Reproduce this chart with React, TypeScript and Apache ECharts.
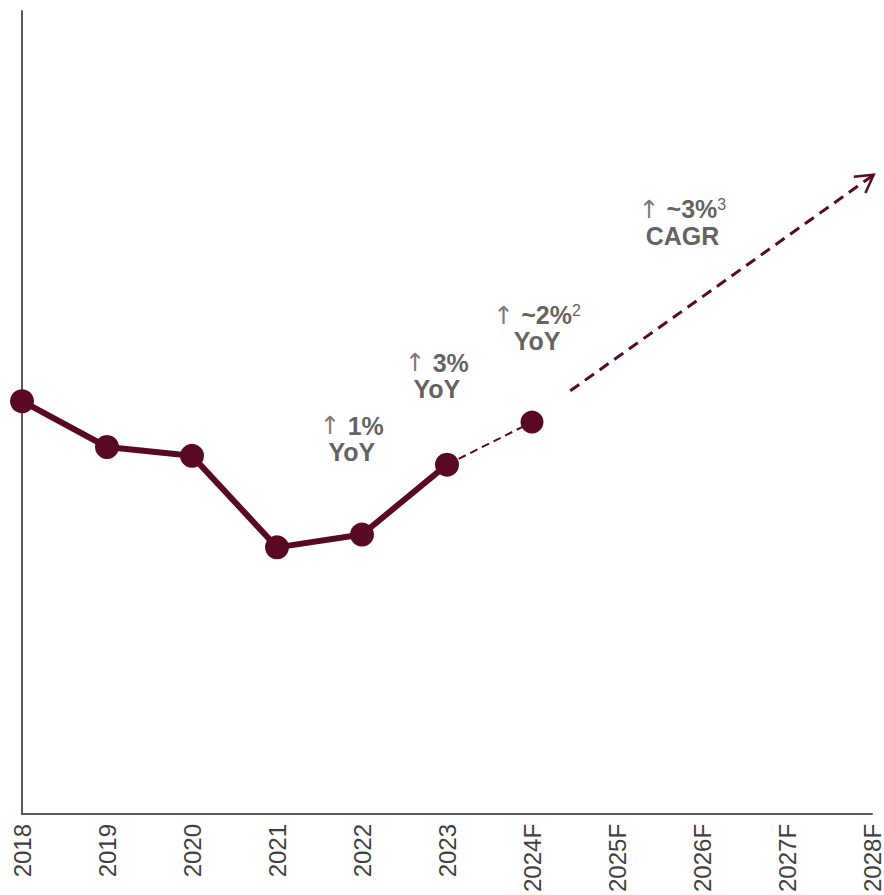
import React, { useEffect, useRef } from "react";
import * as echarts from "echarts";

const categories = ["2018", "2019", "2020", "2021", "2022", "2023", "2024F", "2025F", "2026F", "2027F", "2028F"];
const actualValues = [51.4, 45.7, 44.6, 33.2, 34.8, 43.5];
const forecast2024 = 48.8;
// CAGR arrow: [startIndex, startValue, endIndex, endValue]
const cagrArrow = [6.45, 52.7, 10.02, 79.6];
const annotationPositions = [
  [3.88, 46.7],
  [4.88, 54.6],
  [6.06, 60.5],
  [7.77, 73.6],
];
const annotationTexts = [
  "{arr|↑} {b|1%}\n{b|YoY}",
  "{arr|↑} {b|3%}\n{b|YoY}",
  "{arr|↑} {b|~2%}{sup|2}\n{b|YoY}",
  "{arr|↑} {b|~3%}{sup|3}\n{c|CAGR}",
];

const MAROON = "#5a0923";
const AXIS = "#595959";
const FONT = "Arial, 'Liberation Sans', sans-serif";

export default function App() {
  const ref = useRef<HTMLDivElement>(null);
  useEffect(() => {
    document.body.style.margin = "0";
    const chart = echarts.init(ref.current!, null, { renderer: "svg" });
    const n = categories.length;
    const solid = categories.map((_, i) => (i < actualValues.length ? actualValues[i] : "-"));
    const dashed: any[] = categories.map(() => "-");
    dashed[actualValues.length - 1] = { value: actualValues[actualValues.length - 1], symbol: "none" };
    dashed[actualValues.length] = forecast2024;

    const option: any = {
      animation: false,
      textStyle: { fontFamily: FONT },
      grid: { left: 22, right: 9, top: 11, bottom: 77, containLabel: false },
      xAxis: [
        {
          type: "category",
          data: categories,
          boundaryGap: false,
          axisLine: { show: true, lineStyle: { color: AXIS, width: 2 } },
          axisTick: { show: false },
          splitLine: { show: false },
          axisLabel: { rotate: 90, fontSize: 24, color: "#404040", margin: 10, fontFamily: FONT, interval: 0 },
        },
        { type: "value", min: 0, max: n - 1, show: false },
      ],
      yAxis: {
        type: "value",
        min: 0,
        max: 100,
        axisLine: { show: true, lineStyle: { color: AXIS, width: 2 } },
        axisTick: { show: false },
        axisLabel: { show: false },
        splitLine: { show: false },
      },
      series: [
        {
          type: "line",
          data: dashed,
          symbol: "circle",
          symbolSize: 23,
          itemStyle: { color: MAROON },
          lineStyle: { color: MAROON, width: 2, type: [8, 5] },
          z: 2,
        },
        {
          type: "line",
          data: solid,
          symbol: "circle",
          symbolSize: 24,
          itemStyle: { color: MAROON },
          lineStyle: { color: MAROON, width: 6 },
          z: 3,
        },
        {
          type: "custom",
          xAxisIndex: 1,
          yAxisIndex: 0,
          clip: false,
          encode: { x: [0, 2], y: [1, 3] },
          data: [cagrArrow],
          renderItem: (params: any, api: any) => {
            const p1 = api.coord([api.value(0), api.value(1)]);
            const p2 = api.coord([api.value(2), api.value(3)]);
            const ang = Math.atan2(p1[1] - p2[1], p1[0] - p2[0]);
            const L = 20;
            const spread = Math.PI / 6;
            const a1 = [p2[0] + L * Math.cos(ang + spread), p2[1] + L * Math.sin(ang + spread)];
            const a2 = [p2[0] + L * Math.cos(ang - spread), p2[1] + L * Math.sin(ang - spread)];
            return {
              type: "group",
              children: [
                {
                  type: "line",
                  shape: { x1: p1[0], y1: p1[1], x2: p2[0], y2: p2[1] },
                  style: { stroke: MAROON, lineWidth: 3, lineDash: [11, 7], fill: null },
                },
                {
                  type: "polyline",
                  shape: { points: [a1, p2, a2] },
                  style: { stroke: MAROON, lineWidth: 2.5, fill: null },
                },
              ],
            };
          },
        },
        {
          type: "scatter",
          xAxisIndex: 1,
          yAxisIndex: 0,
          symbolSize: 1,
          itemStyle: { color: "rgba(0,0,0,0)" },
          data: annotationPositions.map((p, i) => ({
            value: p,
            label: { formatter: annotationTexts[i] },
          })),
          label: {
            show: true,
            position: "inside",
            align: "center",
            verticalAlign: "middle",
            fontSize: 25,
            lineHeight: 26,
            color: "#383838",
            fontFamily: FONT,
            rich: {
              arr: { fontSize: 25, lineHeight: 26, fontWeight: "normal", color: "#555555", fontFamily: "'DejaVu Sans', sans-serif" },
              b: { fontSize: 25, lineHeight: 26, fontWeight: "bold", color: "#383838", fontFamily: FONT },
              c: { fontSize: 25, lineHeight: 27, fontWeight: "bold", color: "#383838", fontFamily: FONT },
              sup: { fontSize: 16, lineHeight: 26, fontWeight: "normal", color: "#383838", verticalAlign: "top", fontFamily: FONT },
            },
          },
        },
      ],
    };
    chart.setOption(option);
    return () => chart.dispose();
  }, []);
  return <div ref={ref} style={{ width: 884, height: 895 }} />;
}
